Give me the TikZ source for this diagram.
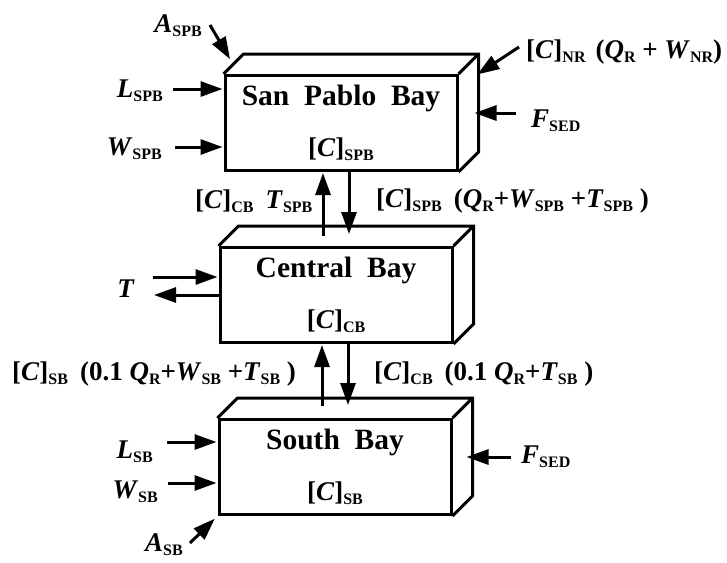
\documentclass[tikz,border=0pt]{standalone}
\usepackage{fontspec}
\setmainfont{Liberation Serif}
\usepackage{tikz}
\usetikzlibrary{arrows.meta, positioning, calc}
\newcommand{\subsc}[1]{\raisebox{-4pt}{\fontsize{16}{16}\selectfont #1}}
\newcommand{\bvar}[2]{\textit{#1}\subsc{#2}}
\newcommand{\conc}[1]{[\textit{C}]\subsc{#1}}
\newcommand{\bayname}[1]{{\fontsize{29.5}{51}\selectfont #1}}
\tikzset{
  baybox/.style={
    rectangle, draw, line width=3pt,
    minimum width=232pt, minimum height=95pt,
    inner sep=0pt, align=center,
    font=\fontsize{27}{51}\selectfont\bfseries,
  },
  boxedge/.style={line width=3pt, line join=miter},
  flow/.style={-{Triangle[length=22pt,width=15pt]}, line width=3pt, shorten >=1pt},
  lab/.style={font=\fontsize{27}{30}\selectfont\bfseries, inner sep=0pt},
}

\begin{document}
\begin{tikzpicture}[x=1pt,y=-1pt]
  \useasboundingbox (0,0) rectangle (727,562);
  % the three bays
  \node[baybox] (spb) at (341,123) {\bayname{San\ \ Pablo\ \ Bay}\\\conc{SPB}};
  \node[baybox] (cb) at (336,295) {\bayname{Central\ \ Bay}\\\conc{CB}};
  \node[baybox] (sb) at (335,467) {\bayname{South\ \ Bay}\\\conc{SB}};
  \foreach \b in {spb,cb,sb}
    \draw[boxedge] (\b.north west) -- ++(20,-20) -| ([shift={(20,-20)}]\b.south east) -- (\b.south east)
      (\b.north east) -- ++(20,-20);
  % labels
  \node[lab,anchor=base east] (aspb) at (202,32) {\bvar{A}{SPB}};
  \node[lab,anchor=base east] (lspb) at (163,97) {\bvar{L}{SPB}};
  \node[lab,anchor=base east] (wspb) at (162,155) {\bvar{W}{SPB}};
  \node[lab,anchor=base west] (nr) at (526,58) {\conc{NR}\hspace{10pt}(\bvar{Q}{R} + \bvar{W}{NR})};
  \node[lab,anchor=base west] (fspb) at (531,127) {\bvar{F}{SED}};
  \node[lab,anchor=base west] (ccb) at (195,208) {\conc{CB}\hspace{12pt}\bvar{T}{SPB}};
  \node[lab,anchor=base west] (cspb) at (376,207) {\conc{SPB}\hspace{12pt}(\bvar{Q}{R}+\bvar{W}{SPB} +\bvar{T}{SPB} )};
  \node[lab,anchor=base east] (t) at (135,297) {\textit{T}};
  \node[lab,anchor=base west] (csb) at (12,380) {\conc{SB}\hspace{12pt}(0.1 \bvar{Q}{R}+\bvar{W}{SB} +\bvar{T}{SB} )};
  \node[lab,anchor=base west] (ccbs) at (374,380) {\conc{CB}\hspace{12pt}(0.1 \bvar{Q}{R}+\bvar{T}{SB} )};
  \node[lab,anchor=base east] (lsb) at (153,458) {\bvar{L}{SB}};
  \node[lab,anchor=base east] (wsb) at (158,498) {\bvar{W}{SB}};
  \node[lab,anchor=base east] (asb) at (183,551) {\bvar{A}{SB}};
  \node[lab,anchor=base west] (fsb) at (521,463) {\bvar{F}{SED}};
  % exchange between bays
  \coordinate (upa) at ($(cb.north)+(-13,-10)$);
  \coordinate (dna) at ($(cb.north)+(13,-11)$);
  \coordinate (upb) at ($(sb.north)+(-13,-12)$);
  \coordinate (dnb) at ($(sb.north)+(13,-12)$);
  \draw[flow] (upa) -- (upa |- spb.south);
  \draw[flow] (dna |- spb.south) -- (dna);
  \draw[flow] (upb) -- (upb |- cb.south);
  \draw[flow] (dnb |- cb.south) -- (dnb);
  % loads
  \draw[flow] ([shift={(8,-7)}]aspb.base east) -- ([shift={(7,-14)}]spb.north west);
  \draw[flow] ([shift={(10,-8)}]lspb.base east) coordinate (l1) -- (l1 -| spb.west);
  \draw[flow] ([shift={(13,-8)}]wspb.base east) coordinate (w1) -- (w1 -| spb.west);
  \draw[flow] ([shift={(-7,-11)}]nr.base west) -- ([shift={(18,1)}]spb.north east);
  \draw[flow] ([shift={(-15,-14)}]fspb.base west) -- ($(spb.east)+(15,-10)$);
  \draw[flow] ([shift={(18,-20)}]t.base east) coordinate (tin) -- (tin -| cb.west);
  \coordinate (tout) at ([shift={(18,-2)}]t.base east);
  \draw[flow] (tout -| cb.west) -- (tout);
  \draw[flow] ([shift={(14,-16)}]lsb.base east) coordinate (l2) -- (l2 -| sb.west);
  \draw[flow] ([shift={(10,-15)}]wsb.base east) coordinate (w2) -- (w2 -| sb.west);
  \draw[flow] ([shift={(7,-8)}]asb.base east) -- ([shift={(-2,2)}]sb.south west);
  \draw[flow] ([shift={(-10,-6)}]fsb.base west) -- ($(sb.east)+(13,-10)$);
\end{tikzpicture}
\end{document}
